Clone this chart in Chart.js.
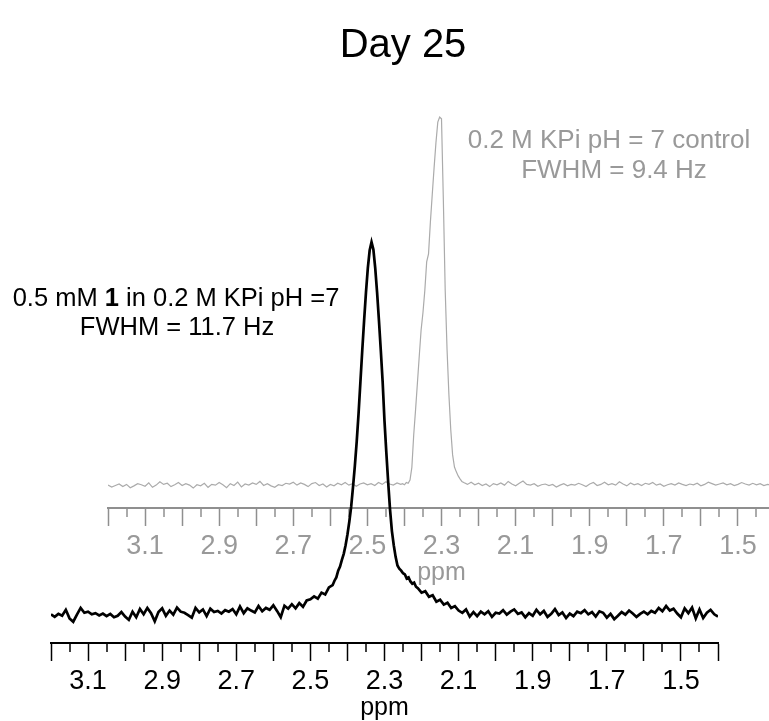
<!DOCTYPE html>
<html>
<head>
<meta charset="utf-8">
<title>Day 25</title>
<script src="https://cdn.jsdelivr.net/npm/chart.js@4.4.0/dist/chart.umd.min.js"></script>
<style>
    html, body { margin: 0; padding: 0; background: #fff; overflow: hidden; }
    body { width: 769px; height: 721px; position: relative; }
    .wrap { position: absolute; width: 769px; height: 721px; }
    #WrapControl { left: 57px; top: -135px; }
    #WrapMuestra { left: 0; top: 0; }
</style>
</head>
<body>
<div class="wrap" id="WrapControl"><canvas id="ChControl"></canvas></div>
<div class="wrap" id="WrapMuestra"><canvas id="ChMuestra"></canvas></div>
<script>
const PpmStep = 0.01;

// 0.5 mM 1 in 0.2 M KPi (negro), baseline 3.20 -> 2.45
const blackLeft = [
    0.2, -0.5, 0.3, -0.2, 1.4, -0.9, -1.8, 0.1, 1.9, 0.6,
    0.9, 0.2, 0.5, -0.1, 0.4, -0.3, 0.3, -0.6, -0.2, 0.8,
    -0.4, -1.3, 0.9, -0.6, 1.6, 0.2, 1.9, 0.5, -1.7, 0.8,
    1.8, -0.2, 1.2, 0.1, 2.0, 0.9, 0.6, 0.0, -0.7, 1.9,
    0.7, 1.5, -0.3, 1.7, 0.8, 1.1, 0.4, 1.3, 0.9, 1.6,
    0.2, 2.3, 0.5, 1.8, 1.2, 0.7, 2.4, 1.0, 1.9, 1.4,
    2.6, 1.1, -0.6, 2.5, 1.7, 2.9, 1.8, 3.2, 2.2, 3.9,
    4.2, 5.0, 4.4, 6.0, 5.5, 7.4
];
const blackPeakPpm = [
    2.44, 2.435, 2.43, 2.425, 2.42, 2.415, 2.41, 2.405, 2.40, 2.395,
    2.39, 2.385, 2.38, 2.375, 2.37, 2.365, 2.36, 2.355, 2.35, 2.345,
    2.34, 2.335, 2.33, 2.325, 2.32, 2.315, 2.31, 2.305, 2.30, 2.295,
    2.29, 2.285, 2.28, 2.275, 2.27, 2.265, 2.26, 2.255, 2.25, 2.245,
    2.24, 2.235, 2.23, 2.225, 2.22, 2.215
];
const blackPeak = [
    8.0, 9.2, 10.1, 11.9, 13.0, 14.8, 16.4, 18.7, 21.6, 25.0,
    29.0, 34.3, 40.0, 46.5, 54.0, 62.5, 71.0, 79.0, 86.5, 93.0,
    97.8, 100, 98.0, 93.0, 86.5, 79.0, 71.0, 62.5, 52.0, 43.5,
    35.5, 28.2, 22.5, 18.7, 15.6, 13.3, 12.4, 11.9, 11.2, 10.9,
    9.8, 10.1, 9.0, 8.4, 8.7, 7.6
];
// 2.21 -> 1.40
const blackRight = [
    7.2, 6.0, 6.4, 4.9, 5.3, 3.6, 4.1, 2.8, 3.3, 1.9,
    2.4, 1.2, 0.6, 1.5, -0.4, 0.8, -0.3, 0.9, 0.2, 1.0,
    -0.5, 0.6, 0.4, 1.3, 0.1, 0.9, 1.5, 0.3, 0.7, -0.6,
    0.5, -0.2, 1.4, 0.2, 1.1, -0.5, 0.3, 1.6, 0.0, 0.7,
    -0.8, 0.4, -0.3, 0.9, 0.5, 1.3, 0.2, 0.8, -0.4, 1.0,
    0.6, -0.7, 0.3, -1.1, -0.2, 0.8, 0.1, 1.2, 0.4, -0.5,
    0.3, 0.9, 0.2, 1.1, 0.6, 1.9, 1.0, 2.4, 1.2, 1.7,
    0.4, -0.6, 1.8, 0.5, 2.0, -0.9, 1.5, -0.8, 0.6, 1.4,
    0.2, -0.4
];

// 0.2 M KPi control (gris), baseline 3.20 -> 2.41
const grayLeft = [
    0.2, -0.3, 0.1, 0.5, -0.2, 0.4, -0.5, 0.0, 0.6, 0.3,
    -0.1, 0.8, -0.4, 0.2, 1.1, 0.4, 0.7, -0.2, 0.3, 0.9,
    0.1, 0.6, 0.2, -0.6, 0.3, 0.0, 0.7, -0.4, 0.4, 0.2,
    0.9, 0.3, -0.5, 0.6, 0.1, 1.0, -0.3, 0.5, 0.2, 0.8,
    0.4, 1.2, 0.1, 0.6, 0.0, -0.4, 0.3, 0.1, 0.7, 0.5,
    1.0, 0.2, 0.8, 0.4, -0.2, 0.6, 0.9, 0.1, 0.5, -0.3,
    0.4, 0.0, 0.7, 0.3, 0.9, 0.2, 0.6, -0.1, 0.5, 0.8,
    0.3, 0.6, 0.1, 0.9, 0.4, 1.1, 0.5, 0.2, 0.8, 0.4
];
const grayPeakPpm = [
    2.405, 2.40, 2.395, 2.39, 2.385, 2.38, 2.375, 2.37, 2.365, 2.36,
    2.355, 2.35, 2.345, 2.34, 2.335, 2.33, 2.325, 2.32, 2.315, 2.31,
    2.305, 2.30, 2.295, 2.29, 2.285, 2.28, 2.275, 2.27, 2.265, 2.26,
    2.255, 2.25, 2.245
];
const grayPeak = [
    0.6, 0.3, 0.9, 0.7, 1.6, 5.0, 13.8, 20.6, 27.9, 35.2,
    42.3, 47.0, 53.0, 60.7, 62.9, 71.5, 78.9, 86.2, 93.0, 98.6,
    100, 99.5, 77.5, 53.0, 36.9, 24.7, 15.2, 8.4, 5.1, 3.8,
    2.7, 1.9, 1.2
];
// 2.24 -> 1.40
const grayRight = [
    0.9, 0.4, 1.0, 0.3, 0.7, 0.1, 0.5, -0.2, 0.6, 0.3,
    0.8, 0.2, 1.2, 0.5, 0.0, 0.7, 1.3, 0.4, 0.2, 0.6,
    -0.1, 0.3, 0.5, 0.1, 0.4, -0.3, 0.2, 0.6, 0.0, 0.4,
    0.2, 0.7, 0.3, -0.2, 0.5, 0.9, 0.1, 0.4, 1.0, 0.3,
    0.6, 0.2, 1.1, 0.5, 0.0, 0.8, 0.3, 0.6, 0.1, 0.7,
    0.4, 0.9, 0.2, 0.5, -0.1, 0.3, 0.6, 0.2, 0.8, 0.4,
    0.1, 0.5, 0.3, 0.7, 0.0, 0.4, 1.0, 0.6, 0.2, 0.5,
    0.8, 0.3, 0.6, 0.1, 0.4, 0.9, 0.5, 0.2, 0.7, 0.3,
    0.6, 0.1, 0.4, 0.2, 0.5
];

// eje ppm
const PpmMin = 1.4;
const PpmMax = 3.2;
const MinorTickPpm = [3.15, 3.05, 2.95, 2.85, 2.75, 2.65, 2.55, 2.45, 2.35, 2.25,
                      2.15, 2.05, 1.95, 1.85, 1.75, 1.65, 1.55, 1.45];

// textos
const TitleText = 'Day 25';
const SampleLine1 = ['0.5 mM ', '1', ' in 0.2 M KPi pH =7'];
const SampleLine2 = 'FWHM = 11.7 Hz';
const ControlLine1 = '0.2 M KPi pH = 7 control';
const ControlLine2 = 'FWHM = 9.4 Hz';

const FontFam = '"Liberation Sans", Arial, sans-serif';
const TickFam = '"Liberation Sans Narrow", "Liberation Sans", Arial, sans-serif';

const BuildPoints = (start, values) =>
    values.map((v, i) => ({ x: +(start - i * PpmStep).toFixed(3), y: v }));

const PeakPoints = (ppm, values) => ppm.map((p, i) => ({ x: p, y: values[i] }));

const LabelCallback = (value) => {
    const t = Math.round(value * 10);
    return t % 2 === 1 ? (t / 10).toFixed(1) : '';
};

const MinorTicks = {
    id: 'minorTicks',
    afterDraw(chart, args, opts) {
        const sc = chart.scales.x;
        const ctx = chart.ctx;
        ctx.save();
        ctx.strokeStyle = opts.color;
        ctx.lineWidth = 1.5;
        MinorTickPpm.forEach((v) => {
            const px = Math.round(sc.getPixelForValue(v));
            ctx.beginPath();
            ctx.moveTo(px, sc.top);
            ctx.lineTo(px, sc.top + 9);
            ctx.stroke();
        });
        ctx.restore();
    }
};

const Textos = {
    id: 'textos',
    afterDraw(chart) {
        const ctx = chart.ctx;
        ctx.save();
        ctx.textBaseline = 'alphabetic';

        ctx.fillStyle = '#000';
        ctx.textAlign = 'center';
        ctx.font = '40px ' + FontFam;
        ctx.fillText(TitleText, 403, 57);

        // muestra, con el "1" en negrita
        const normal = '25.5px ' + FontFam;
        const bold = 'bold 25.5px ' + FontFam;
        const fonts = [normal, bold, normal];
        let widths = SampleLine1.map((s, i) => { ctx.font = fonts[i]; return ctx.measureText(s).width; });
        let x = 176 - widths.reduce((a, b) => a + b, 0) / 2;
        ctx.textAlign = 'left';
        SampleLine1.forEach((s, i) => {
            ctx.font = fonts[i];
            ctx.fillText(s, x, 306);
            x += widths[i];
        });
        ctx.textAlign = 'center';
        ctx.font = normal;
        ctx.fillText(SampleLine2, 177, 335);

        // control
        ctx.fillStyle = '#999999';
        ctx.font = '26px ' + FontFam;
        ctx.fillText(ControlLine1, 609, 148);
        ctx.fillText(ControlLine2, 614, 178);
        ctx.restore();
    }
};

const MakeChart = (id, points, cfg, extra) => new Chart(document.getElementById(id), {
    type: 'line',
    data: {
        datasets: [{
            data: points,
            borderColor: cfg.line,
            borderWidth: cfg.lineWidth,
            pointRadius: 0,
            tension: 0,
            fill: false
        }]
    },
    options: {
        responsive: true,
        maintainAspectRatio: false,
        animation: false,
        layout: { padding: { left: 51, right: 51, top: 100, bottom: 0 } },
        plugins: {
            legend: { display: false },
            tooltip: { enabled: false },
            minorTicks: { color: cfg.axis }
        },
        scales: {
            x: {
                type: 'linear',
                reverse: true,
                min: PpmMin,
                max: PpmMax,
                afterFit: (s) => { s.height = 78; },
                border: { display: true, color: cfg.axis, width: 2 },
                grid: {
                    display: true,
                    drawOnChartArea: false,
                    drawTicks: true,
                    tickLength: 18,
                    tickColor: cfg.axis,
                    tickWidth: 1.5
                },
                ticks: {
                    stepSize: 0.1,
                    autoSkip: false,
                    maxRotation: 0,
                    padding: 4,
                    color: cfg.text,
                    font: { family: TickFam, size: 27 },
                    callback: LabelCallback
                },
                title: {
                    display: true,
                    text: 'ppm',
                    color: cfg.text,
                    font: { family: FontFam, size: 25 },
                    padding: { top: 0, bottom: -2 }
                }
            },
            y: { display: false, min: cfg.yMin, max: cfg.yMax }
        }
    },
    plugins: [MinorTicks].concat(extra)
});

const grayPoints = [...BuildPoints(3.20, grayLeft), ...PeakPoints(grayPeakPpm, grayPeak), ...BuildPoints(2.24, grayRight)];
const blackPoints = [...BuildPoints(3.20, blackLeft), ...PeakPoints(blackPeakPpm, blackPeak), ...BuildPoints(2.21, blackRight)];

MakeChart('ChControl', grayPoints,
    { line: '#ababab', lineWidth: 1.2, axis: '#8f8f8f', text: '#999999', yMin: -6.0, yMax: 141.2 }, []);
MakeChart('ChMuestra', blackPoints,
    { line: '#000000', lineWidth: 2.7, axis: '#000000', text: '#000000', yMin: -7.5, yMax: 138.1 }, [Textos]);
</script>
</body>
</html>
